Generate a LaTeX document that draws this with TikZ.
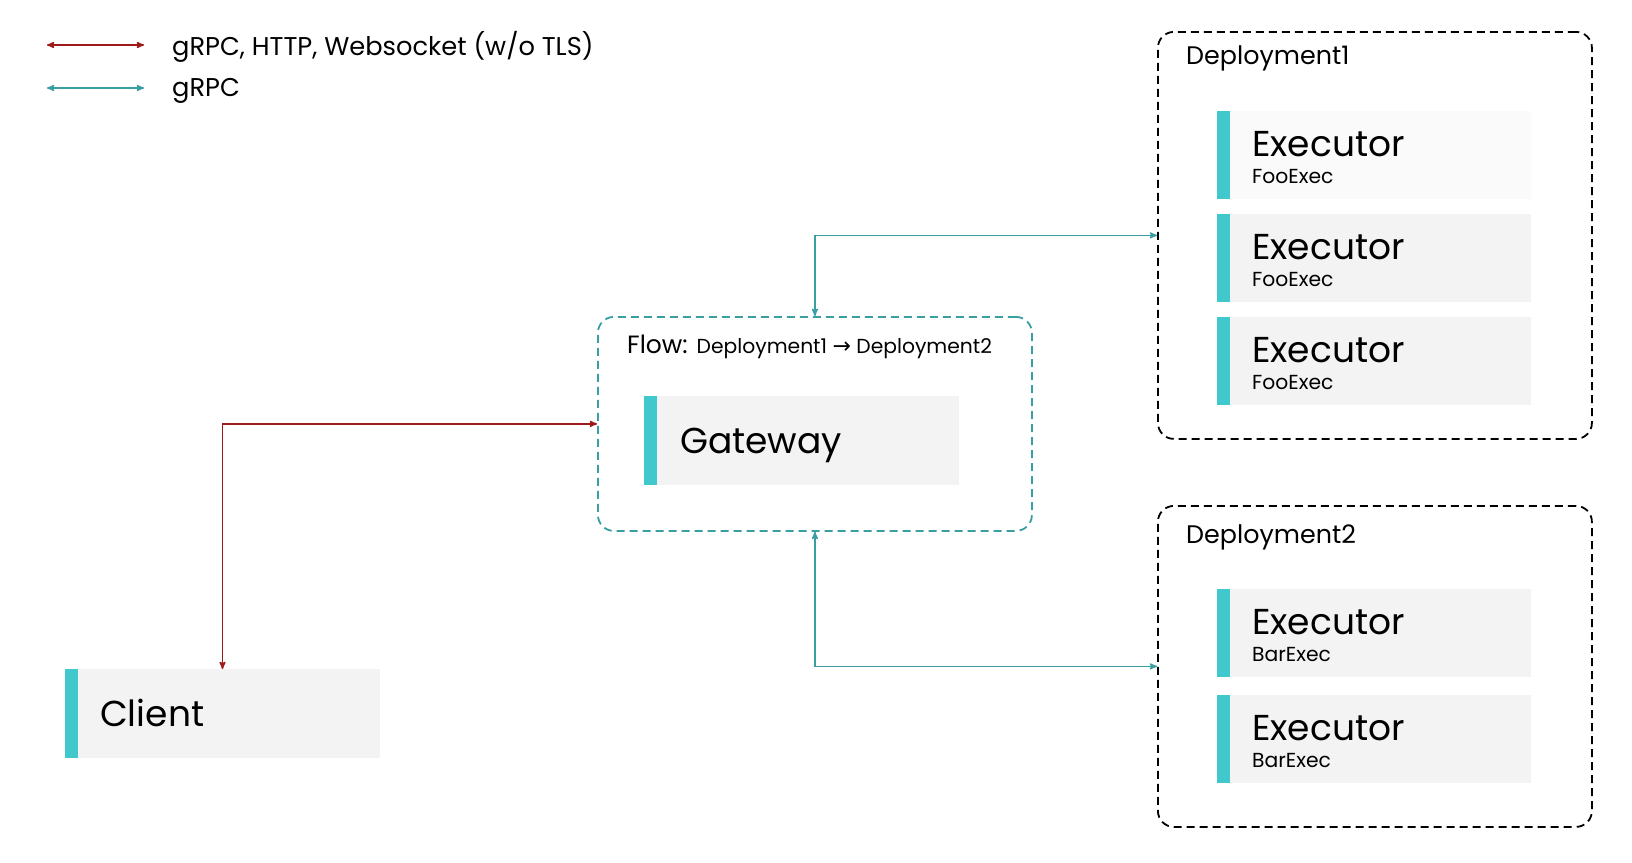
\documentclass[tikz,border=0pt]{standalone}
\usepackage{fontspec}
\setmainfont{Poppins}
\newfontfamily\symfont{DejaVu Sans}
\usetikzlibrary{arrows}
\definecolor{barteal}{HTML}{40C8CC}
\definecolor{boxgray}{HTML}{F3F3F3}
\definecolor{boxlight}{HTML}{FAFAFA}
\definecolor{linkred}{HTML}{9E1A1A}
\definecolor{linkteal}{HTML}{3A9FA2}
\tikzset{
        card/.style = {rectangle, fill=boxgray, inner sep=0pt, outer sep=0pt,
            anchor=north west,
            path picture={\fill[barteal] (path picture bounding box.south west)
                rectangle ([xshift=13pt]path picture bounding box.north west);}},
        exec_n/.style = {card, minimum width=314pt, minimum height=88pt},
        big_n/.style = {card, minimum width=315pt, minimum height=89pt},
        group_n/.style = {rectangle, rounded corners=16pt, inner sep=0pt,
            line width=1.8pt, dash pattern=on 8pt off 5pt},
        caption/.style = {anchor=base west, inner sep=0pt},
        red_l/.style = {<->, linkred, line width=1.5pt},
        teal_l/.style = {<->, linkteal, line width=1.5pt}
    }

\begin{document}
\begin{tikzpicture}[x=1pt, y=-1pt, >=stealth']
    \useasboundingbox (0,0) rectangle (1632,862);
    % legend
    \coordinate (lr1) at (47,45);  \coordinate (lr2) at (144,45);
    \coordinate (lt1) at (47,88);  \coordinate (lt2) at (144,88);
    \draw[red_l] (lr1) -- (lr2);
    \draw[teal_l] (lt1) -- (lt2);
    \node[caption, font=\fontsize{25.7}{26}\selectfont] (lrt) at (172,55) {gRPC, HTTP, Websocket (w/o TLS)};
    \node[caption, font=\fontsize{25.7}{26}\selectfont] (ltt) at (172,96) {gRPC};

    % groups
    \node[group_n, draw=black, anchor=north west, minimum width=434pt, minimum height=407pt] (d1) at (1157,31) {};
    \node[group_n, draw=black, anchor=north west, minimum width=434pt, minimum height=321pt] (d2) at (1157,505) {};
    \node[group_n, draw=linkteal, anchor=north west, minimum width=434pt, minimum height=214pt] (flow) at (597,316) {};
    \node[caption, font=\fontsize{25.4}{26}\selectfont] (d1t) at (1186,64) {Deployment1};
    \node[caption, font=\fontsize{25.4}{26}\selectfont] (d2t) at (1186,543) {Deployment2};
    \node[caption, font=\fontsize{25}{25}\selectfont] (flowt) at (627,353)
        {Flow: {\fontsize{20.3}{20}\selectfont Deployment1 {\symfont\fontsize{22}{22}\selectfont →} Deployment2}};

    % executors
    \foreach \name/\top/\sub/\tone in {e1/111/FooExec/boxlight, e2/214/FooExec/boxgray, e3/317/FooExec/boxgray,
                                 e4/589/BarExec/boxgray, e5/695/BarExec/boxgray}{
        \node[exec_n, fill=\tone] (\name) at (1217,\top) {};
        \node[caption, font=\fontsize{36}{36}\selectfont] (\name t) at ([shift={(35,45)}]\name.north west) {Executor};
        \node[caption, font=\fontsize{20.3}{20}\selectfont] (\name s) at ([shift={(35,72)}]\name.north west) {\sub};
    }

    % gateway and client
    \node[big_n] (gw) at (644,396) {};
    \node[caption, font=\fontsize{36}{36}\selectfont] (gwt) at ([shift={(36,57)}]gw.north west) {Gateway};
    \node[big_n] (client) at (65,669) {};
    \node[caption, font=\fontsize{36}{36}\selectfont] (clientt) at ([shift={(35,57)}]client.north west) {Client};

    % links
    \draw[red_l] (client.north) |- (flow.west);
    \draw[teal_l] (flow.north) |- (d1.west);
    \draw[teal_l] (flow.south) |- (d2.west);
\end{tikzpicture}
\end{document}
